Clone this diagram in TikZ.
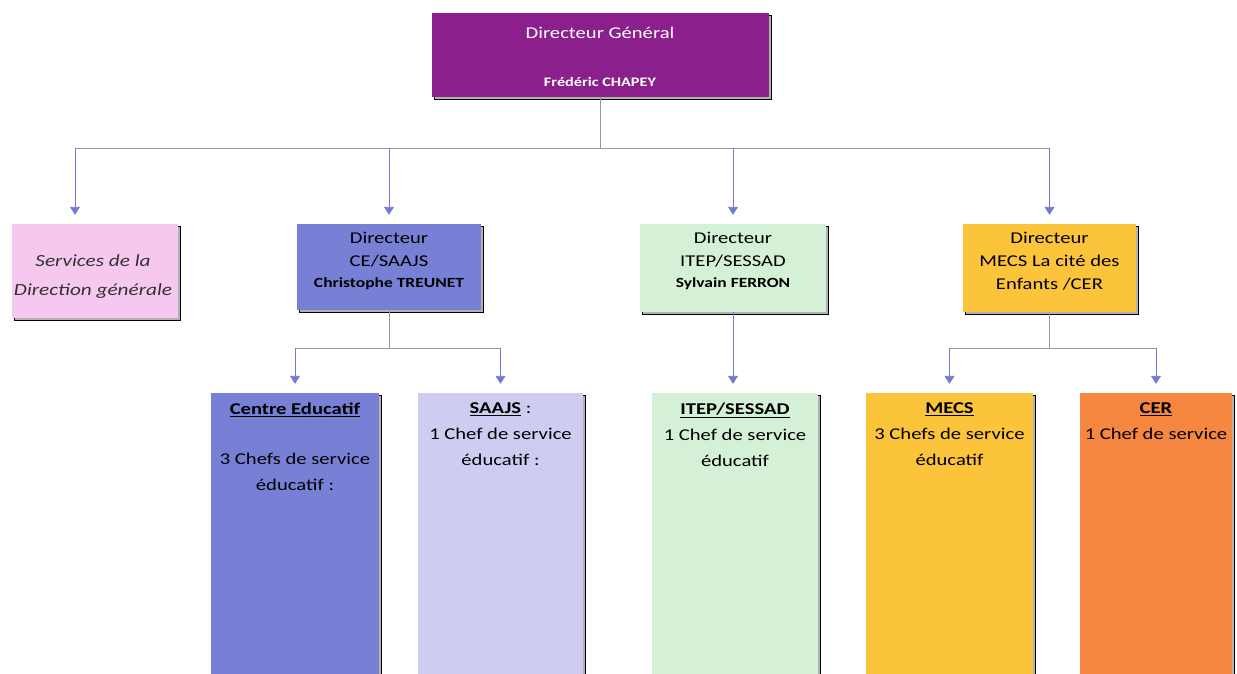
\documentclass[tikz,border=0pt]{standalone}
\usepackage{fontspec}
\setmainfont[FakeStretch=1.25]{Carlito}
\usetikzlibrary{arrows.meta, positioning, shadows}

\definecolor{violetdg}{RGB}{139,32,140}
\definecolor{rosesdg}{RGB}{246,200,240}
\definecolor{bleuce}{RGB}{120,128,214}
\definecolor{lavande}{RGB}{206,204,240}
\definecolor{vertitep}{RGB}{212,240,214}
\definecolor{jaunemecs}{RGB}{251,196,58}
\definecolor{orangecer}{RGB}{246,135,64}
\definecolor{lienc}{RGB}{150,150,160}
\definecolor{flechec}{RGB}{115,122,205}

\newcommand{\nomdir}{\fontsize{14}{16}\selectfont\bfseries}

\begin{document}
\begin{tikzpicture}[x=1pt, y=-1pt,
    boite/.style={rectangle, inner sep=0pt,
        copy shadow={shadow xshift=2pt, shadow yshift=-2pt, fill=black!30}},
    txt/.style={align=center, inner sep=0pt, font=\fontsize{16.5}{23}\selectfont},
    lien/.style={draw=lienc, line width=0.9pt},
    fleche/.style={draw=flechec, line width=0.9pt, shorten >=9pt,
        -{Triangle[length=8pt, width=10pt, color=flechec]}}
    ]
    \useasboundingbox (0,0) rectangle (1237,673);
    \clip (0,0) rectangle (1237,673);

    % niveau 1
    \node[boite, fill=violetdg, minimum width=337, minimum height=84] (dg) at (600.5,55) {};
    \node[txt, text=white] (dgtitre) at (600,33) {Directeur Général};
    \node[txt, text=white, font=\fontsize{13}{14}\selectfont\bfseries] (dgnom) at (600,82) {Frédéric CHAPEY};

    % niveau 2
    \node[boite, fill=rosesdg, minimum width=166, minimum height=94] (sdg) at (95,271) {};
    \node[boite, fill=bleuce, minimum width=184, minimum height=86] (dce) at (389,267) {};
    \node[boite, fill=vertitep, minimum width=186, minimum height=88] (ditep) at (733,268) {};
    \node[boite, fill=jaunemecs, minimum width=173, minimum height=88] (dmecs) at (1049.5,268) {};

    \node[txt, text=black!80, font=\fontsize{17}{29}\selectfont\itshape] (sdgtxt) at (93,277)
        {Services de la\\Direction générale};
    \node[txt, anchor=north] (dcetxt) at ([yshift=-8]dce.north)
        {Directeur\\CE/SAAJS\\[-2pt]{\nomdir Christophe TREUNET}};
    \node[txt, anchor=north] (diteptxt) at ([yshift=-8]ditep.north)
        {Directeur\\ITEP/SESSAD\\[-2pt]{\nomdir Sylvain FERRON}};
    \node[txt, anchor=north] (dmecstxt) at ([yshift=-8]dmecs.north)
        {Directeur\\MECS La cité des\\Enfants /CER};

    % niveau 3
    \node[boite, fill=bleuce, minimum width=168, minimum height=297] (ce) at (295,541.5) {};
    \node[boite, fill=lavande, minimum width=165, minimum height=297] (saajs) at (500.5,541.5) {};
    \node[boite, fill=vertitep, minimum width=166, minimum height=297] (itep) at (735,541.5) {};
    \node[boite, fill=jaunemecs, minimum width=167, minimum height=297] (mecs) at (949.5,541.5) {};
    \node[boite, fill=orangecer, minimum width=152, minimum height=297] (cer) at (1156,541.5) {};

    \node[txt, anchor=north, font=\fontsize{16.5}{26}\selectfont] (cetxt) at ([yshift=-10]ce.north)
        {\underline{\textbf{Centre Educatif}}\\[24pt]3 Chefs de service\\éducatif :};
    \node[txt, anchor=north, font=\fontsize{16.5}{26}\selectfont] (saajstxt) at ([yshift=-10]saajs.north)
        {\underline{\textbf{SAAJS}} :\\1 Chef de service\\éducatif :};
    \node[txt, anchor=north, font=\fontsize{16.5}{26}\selectfont] (iteptxt) at ([yshift=-10]itep.north)
        {\underline{\textbf{ITEP/SESSAD}}\\1 Chef de service\\éducatif};
    \node[txt, anchor=north, font=\fontsize{16.5}{26}\selectfont] (mecstxt) at ([yshift=-10]mecs.north)
        {\underline{\textbf{MECS}}\\3 Chefs de service\\éducatif};
    \node[txt, anchor=north, font=\fontsize{16.5}{26}\selectfont] (certxt) at ([yshift=-10]cer.north)
        {\underline{\textbf{CER}}\\1 Chef de service};

    % liens
    \coordinate (s0) at ([xshift=-20]sdg.north);
    \draw[lien] (dg.south) -- (dg.south |- 0,148) coordinate (j0);
    \draw[lien] (j0 -| s0) -- (j0 -| dmecs.north);
    \draw[fleche] (j0 -| s0) -- (s0);
    \draw[fleche] (j0 -| dce.north) -- (dce.north);
    \draw[fleche] (j0 -| ditep.north) -- (ditep.north);
    \draw[fleche] (j0 -| dmecs.north) -- (dmecs.north);

    \draw[lien] (dce.south) -- ++(0,38) coordinate (j1);
    \draw[lien] (j1 -| ce.north) -- (j1 -| saajs.north);
    \draw[fleche] (j1 -| ce.north) -- (ce.north);
    \draw[fleche] (j1 -| saajs.north) -- (saajs.north);

    \draw[fleche] (ditep.south) -- (ditep.south |- itep.north);

    \draw[lien] (dmecs.south) -- ++(0,36) coordinate (j2);
    \draw[lien] (j2 -| mecs.north) -- (j2 -| cer.north);
    \draw[fleche] (j2 -| mecs.north) -- (mecs.north);
    \draw[fleche] (j2 -| cer.north) -- (cer.north);
\end{tikzpicture}
\end{document}
